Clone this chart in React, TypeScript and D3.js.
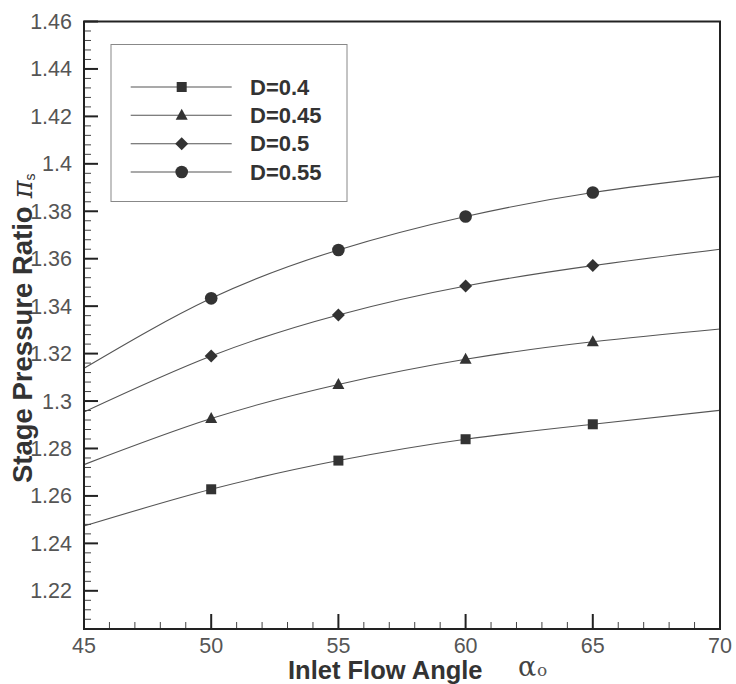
import React from "react";
import * as d3 from "d3";

const xValues = [45, 50, 55, 60, 65, 70];
const markerX = [50, 55, 60, 65];
const seriesNames = ["D=0.4", "D=0.45", "D=0.5", "D=0.55"];
const seriesD04 = [1.2473, 1.2628, 1.2749, 1.2839, 1.2902, 1.2961];
const seriesD045 = [1.2732, 1.2926, 1.307, 1.3176, 1.325, 1.3304];
const seriesD05 = [1.2954, 1.319, 1.3363, 1.3485, 1.3571, 1.364];
const seriesD055 = [1.3138, 1.3433, 1.3637, 1.3778, 1.3879, 1.3947];
const markerTypes = ["square", "triangle", "diamond", "circle"];
const xTicks = [45, 50, 55, 60, 65, 70];
const yTicks = [1.22, 1.24, 1.26, 1.28, 1.3, 1.32, 1.34, 1.36, 1.38, 1.4, 1.42, 1.44, 1.46];

const W = 736;
const H = 684;
const L = 84, R = 720, T = 21.5, B = 629;

const x = d3.scaleLinear().domain([45, 70]).range([L, R]);
const y = d3.scaleLinear().domain([1.2039, 1.46]).range([B, T]);

const allSeries = [seriesD04, seriesD045, seriesD05, seriesD055];

function Marker({ type, cx, cy }: { type: string; cx: number; cy: number }) {
  const fill = "#333";
  if (type === "square") return <rect x={cx - 5} y={cy - 5} width={10} height={10} fill={fill} />;
  if (type === "triangle")
    return <path d={`M${cx},${cy - 6.5}L${cx + 6},${cy + 4.5}L${cx - 6},${cy + 4.5}Z`} fill={fill} />;
  if (type === "diamond")
    return <path d={`M${cx},${cy - 6.5}L${cx + 6.5},${cy}L${cx},${cy + 6.5}L${cx - 6.5},${cy}Z`} fill={fill} />;
  return <circle cx={cx} cy={cy} r={6.3} fill={fill} />;
}

export default function App() {
  const line = d3
    .line<number>()
    .x((_, i) => x(xValues[i]))
    .y((d) => y(d))
    .curve(d3.curveNatural);

  const minorX = d3.range(46, 70, 1).filter((v) => v % 5 !== 0);
  const minorY: number[] = [];
  for (let v = 1.208; v < 1.46; v += 0.004) {
    const r = Math.round(v * 1000) / 1000;
    if (Math.round(r * 1000) % 20 !== 0) minorY.push(r);
  }

  const legendRows = [87, 115.3, 143.7, 172];

  return (
    <svg
      width={W}
      height={H}
      style={{ position: "absolute", left: 0, top: 0, background: "#fff" }}
      fontFamily="'Liberation Sans', Arial, sans-serif"
    >
      <rect x={0} y={0} width={W} height={H} fill="#fff" />
      {/* curves */}
      {allSeries.map((s, i) => (
        <path key={i} d={line(s) || ""} fill="none" stroke="#555" strokeWidth={1.1} />
      ))}
      {allSeries.map((s, i) =>
        markerX.map((mx) => {
          const idx = xValues.indexOf(mx);
          return <Marker key={`${i}-${mx}`} type={markerTypes[i]} cx={x(mx)} cy={y(s[idx])} />;
        })
      )}
      {/* ticks */}
      {yTicks.map((t) => (
        <line key={`yt${t}`} x1={L} x2={L + 14} y1={y(t)} y2={y(t)} stroke="#222" strokeWidth={2} />
      ))}
      {minorY.map((t) => (
        <line key={`ym${t}`} x1={L} x2={L + 7} y1={y(t)} y2={y(t)} stroke="#444" strokeWidth={1} />
      ))}
      {xTicks.map((t) => (
        <line key={`xt${t}`} x1={x(t)} x2={x(t)} y1={B} y2={B - 15} stroke="#222" strokeWidth={2} />
      ))}
      {minorX.map((t) => (
        <line key={`xm${t}`} x1={x(t)} x2={x(t)} y1={B} y2={B - 7} stroke="#444" strokeWidth={1} />
      ))}
      {/* frame */}
      <rect x={L} y={T} width={R - L} height={B - T} fill="none" stroke="#222" strokeWidth={2} />
      {/* tick labels */}
      {yTicks.map((t) => (
        <text key={`yl${t}`} x={72} y={y(t) + 7.5} textAnchor="end" fontSize={21.5} fill="#555">
          {String(+t.toFixed(2))}
        </text>
      ))}
      {xTicks.map((t) => (
        <text key={`xl${t}`} x={x(t)} y={653} textAnchor="middle" fontSize={21.5} fill="#555">
          {t}
        </text>
      ))}
      {/* axis titles */}
      <text x={288} y={679} fontSize={25.5} fontWeight="bold" fill="#333">
        Inlet Flow Angle
      </text>
      <text x={518} y={676} fontSize={27} fill="#444" fontFamily="'DejaVu Serif', serif">
        α
      </text>
      <text x={537} y={676} fontSize={17} fill="#555" fontFamily="'DejaVu Serif', serif">
        o
      </text>
      <g transform="translate(32,483) rotate(-90)">
        <text x={0} y={0} fontSize={27.5} fontWeight="bold" fill="#333">
          Stage Pressure Ratio
          <tspan dx={8} fontWeight="normal" fontFamily="'DejaVu Serif', serif" fontStyle="italic" fontSize={27}>
            π
          </tspan>
          <tspan dy={3} fontWeight="normal" fontSize={14}>
            s
          </tspan>
        </text>
      </g>
      {/* legend */}
      <rect x={111} y={44.5} width={236} height={157} fill="#fff" stroke="#888" strokeWidth={1} />
      {seriesNames.map((name, i) => (
        <g key={name}>
          <line x1={130.7} x2={231.7} y1={legendRows[i]} y2={legendRows[i]} stroke="#555" strokeWidth={1.1} />
          <Marker type={markerTypes[i]} cx={181.7} cy={legendRows[i]} />
          <text x={250} y={legendRows[i] + 7.5} fontSize={22} fontWeight="bold" fill="#333">
            {name}
          </text>
        </g>
      ))}
    </svg>
  );
}
